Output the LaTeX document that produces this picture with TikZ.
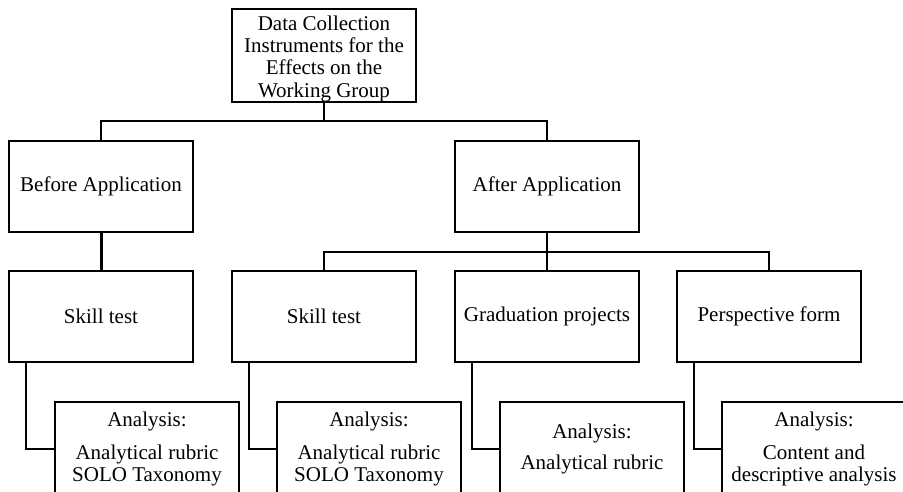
\documentclass[tikz,border=0pt]{standalone}
\usepackage{fontspec}
\setmainfont{Liberation Serif}
\usepackage{tikz}

\begin{document}
\begin{tikzpicture}[x=1pt,y=-1pt,semithick]
              \tikzstyle{box}=[draw,rectangle,line width=2.2pt,minimum width=184pt,minimum height=91pt,align=center,inner sep=2pt,font=\fontsize{21}{22.3}\selectfont]
              \tikzstyle{low}=[box,minimum height=94pt]
              \tikzstyle{link}=[line width=1.6pt]
              \tikzstyle{bold}=[line width=3pt]

              \path[use as bounding box,clip] (0,0) rectangle (903,491);

              \node[box,minimum height=93pt,inner ysep=0pt] (top) at (324,55.5) {\rule{0pt}{21pt}Data Collection\\Instruments for the\\Effects on the\\Working Group};
              \node[box] (before) at (101,186.5) {Before Application};
              \node[box] (after)  at (547,186.5) {After Application};

              \node[box] (skillA) at (101,316.5) {Skill test};
              \node[box] (skillB) at (324,316.5) {Skill test};
              \node[box] (grad)   at (547,316.5) {Graduation projects};
              \node[box] (persp)  at (769,316.5) {Perspective form};

              \node[low] (anaA) at (147,449) {Analysis:\\[10pt]Analytical rubric\\SOLO Taxonomy};
              \node[low] (anaB) at (369,449) {Analysis:\\[10pt]Analytical rubric\\SOLO Taxonomy};
              \node[low] (anaC) at (592,449) {Analysis:\\[8pt]Analytical rubric};
              \node[low] (anaD) at (814,449) {Analysis:\\[10pt]Content and\\descriptive analysis};

              \coordinate (j1) at (324,121);
              \coordinate (j2) at (547,252);

              \draw[link] (top.south) -- (j1);
              \draw[link] (before.north) |- (j1) -| (after.north);
              \draw[bold] (before.south) -- (skillA.north);
              \draw[link] (after.south) -- (j2);
              \draw[link] (skillB.north) |- (j2) -| (persp.north);
              \draw[link] (j2) -- (grad.north);

              \draw[link] ([xshift=18pt]skillA.south west) |- (anaA.west);
              \draw[link] ([xshift=18pt]skillB.south west) |- (anaB.west);
              \draw[link] ([xshift=18pt]grad.south west)   |- (anaC.west);
              \draw[link] ([xshift=18pt]persp.south west)  |- (anaD.west);
       \end{tikzpicture}
\end{document}
